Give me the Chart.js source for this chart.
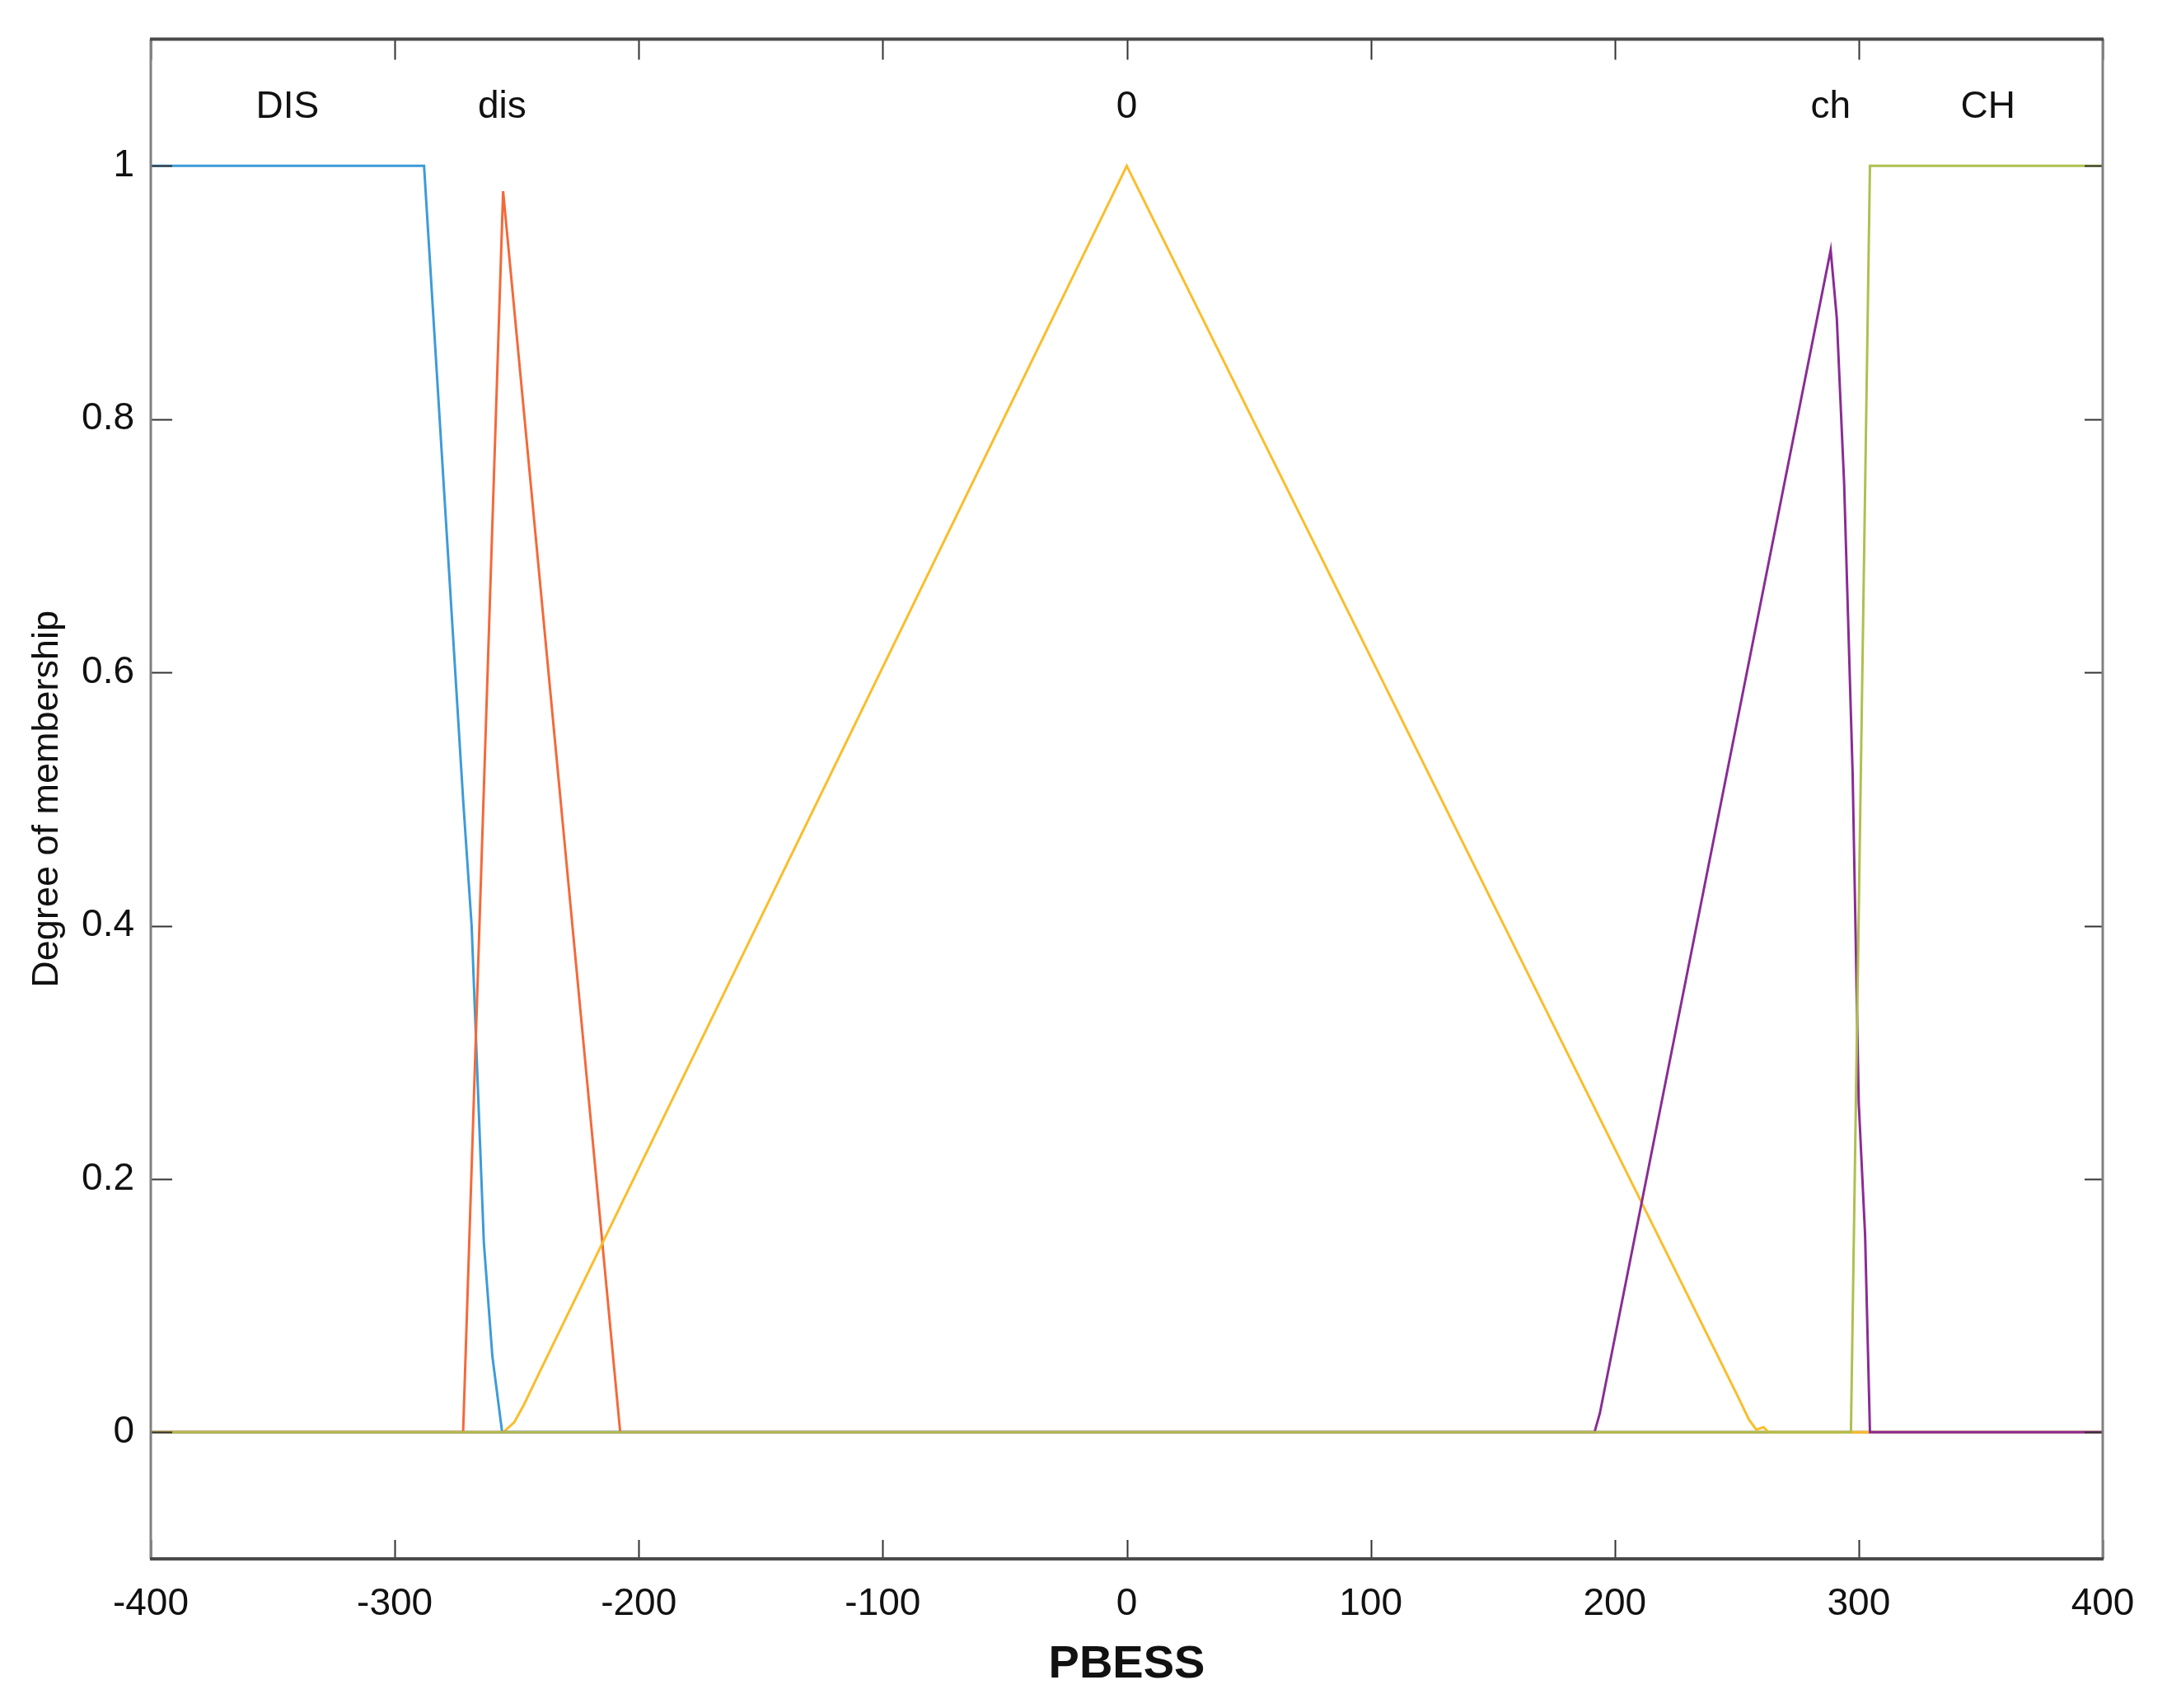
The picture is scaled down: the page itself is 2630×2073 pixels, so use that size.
<!DOCTYPE html>
<html>
<head>
<meta charset="utf-8">
<script src="https://cdn.jsdelivr.net/npm/chart.js@4.4.0/dist/chart.umd.min.js"></script>
<style>
  html, body { margin: 0; padding: 0; background: #fff; }
  #wrap { width: 2630px; height: 2073px; }
</style>
</head>
<body>
<div id="wrap"><canvas id="mf-chart"></canvas></div>
<script>
// membership functions of PBESS
var disBigX = [-400, -288, -280, -272, -268.5, -265.5, -263.5, -260, -256, 400];
var disBigY = [1, 1, 0.75, 0.5, 0.4, 0.25, 0.15, 0.06, 0, 0];

var disX = [-400, -272, -255.6, -207.6, 400];
var disY = [0, 0, 0.98, 0, 0];

var zeroX = [-400, -255.5, -251, -247, -240, 0, 241, 250, 255, 258, 261, 263, 400];
var zeroY = [0, 0, 0.008, 0.022, 0.05, 1, 0.065, 0.03, 0.01, 0.002, 0.004, 0, 0];

var chX = [-400, 191.7, 193.9, 288.5, 291, 294, 297.5, 300, 302.6, 304.6, 400];
var chY = [0, 0, 0.015, 0.9335, 0.88, 0.75, 0.52, 0.26, 0.156, 0, 0];

var chBigX = [-400, 296.8, 304.6, 400];
var chBigY = [0, 0, 1, 1];

var mfNames = ["DIS", "dis", "0", "ch", "CH"];
var mfLabelX = [-344, -256, 0, 288.5, 353];
var mfLabelY = 1.046;

var xTicks = [-400, -300, -200, -100, 0, 100, 200, 300, 400];
var yTicks = [0, 0.2, 0.4, 0.6, 0.8, 1];
var yTickLabels = ["0", "0.2", "0.4", "0.6", "0.8", "1"];

function pts(xs, ys) {
  return xs.map(function (x, i) { return { x: x, y: ys[i] }; });
}

function mf(data, color, order) {
  return {
    data: data,
    borderColor: color,
    borderWidth: 3,
    showLine: true,
    pointRadius: 0,
    tension: 0,
    order: order,
  };
}

var frame = {
  id: "frame",
  afterDraw: function (chart) {
    var c = chart.ctx;
    var a = chart.chartArea;
    var xs = chart.scales.x;
    var ys = chart.scales.y;
    c.save();
    // annotations above the curves
    c.fillStyle = "#111";
    c.font = "46px 'Liberation Sans', Arial, sans-serif";
    c.textAlign = "center";
    c.textBaseline = "middle";
    mfNames.forEach(function (n, i) {
      c.fillText(n, xs.getPixelForValue(mfLabelX[i]), ys.getPixelForValue(mfLabelY));
    });
    // inward ticks
    c.strokeStyle = "#333";
    c.lineWidth = 2;
    c.beginPath();
    xTicks.forEach(function (v) {
      var px = Math.round(xs.getPixelForValue(v)) + 0.5;
      c.moveTo(px, a.bottom); c.lineTo(px, a.bottom - 23);
      c.moveTo(px, a.top); c.lineTo(px, a.top + 25);
    });
    yTicks.forEach(function (v) {
      var py = Math.round(ys.getPixelForValue(v)) + 0.5;
      c.moveTo(a.left, py); c.lineTo(a.left + 26, py);
      c.moveTo(a.right, py); c.lineTo(a.right - 22, py);
    });
    c.stroke();
    // box
    c.strokeStyle = "#808080";
    c.lineWidth = 3;
    c.beginPath();
    c.moveTo(a.left, a.top); c.lineTo(a.left, a.bottom);
    c.moveTo(a.right, a.top); c.lineTo(a.right, a.bottom);
    c.stroke();
    c.strokeStyle = "#4a4a4a";
    c.lineWidth = 4;
    c.beginPath();
    c.moveTo(a.left - 1, a.top); c.lineTo(a.right + 1, a.top);
    c.moveTo(a.left - 1, a.bottom); c.lineTo(a.right + 1, a.bottom);
    c.stroke();
    c.restore();
  },
};

var ctx = document.getElementById("mf-chart").getContext("2d");
new Chart(ctx, {
  type: "scatter",
  data: {
    datasets: [
      mf(pts(disBigX, disBigY), "#3d9bd8", 5),
      mf(pts(disX, disY), "#f4693a", 4),
      mf(pts(zeroX, zeroY), "#fbbd2a", 3),
      mf(pts(chX, chY), "#8a2c95", 2),
      mf(pts(chBigX, chBigY), "#b0bf50", 1),
    ],
  },
  options: {
    responsive: true,
    maintainAspectRatio: false,
    animation: false,
    layout: { padding: { top: 45, right: 78, left: 0, bottom: 0 } },
    plugins: {
      legend: { display: false },
      tooltip: { enabled: false },
    },
    scales: {
      x: {
        type: "linear",
        min: -400,
        max: 400,
        afterBuildTicks: function (s) { s.ticks = xTicks.map(function (v) { return { value: v }; }); },
        afterFit: function (s) { s.height = 181; },
        grid: { display: false, drawTicks: false },
        border: { display: false },
        ticks: {
          padding: 28,
          color: "#111",
          font: { family: "'Liberation Sans', Arial, sans-serif", size: 46 },
          maxRotation: 0,
        },
        title: {
          display: true,
          text: "PBESS",
          color: "#111",
          font: { family: "'Liberation Sans', Arial, sans-serif", size: 56, weight: "bold" },
          padding: { top: 0, bottom: 19 },
        },
      },
      y: {
        type: "linear",
        min: -0.1,
        max: 1.1,
        afterBuildTicks: function (s) { s.ticks = yTicks.map(function (v) { return { value: v }; }); },
        afterFit: function (s) { s.width = 183; },
        grid: { display: false, drawTicks: false },
        border: { display: false },
        ticks: {
          padding: 20,
          color: "#111",
          font: { family: "'Liberation Sans', Arial, sans-serif", size: 46 },
          callback: function (value, index) { return yTickLabels[index]; },
        },
        title: {
          display: true,
          text: "Degree of membership",
          color: "#111",
          font: { family: "'Liberation Sans', Arial, sans-serif", size: 45 },
          padding: { top: 31, bottom: 0 },
        },
      },
    },
  },
  plugins: [frame],
});
</script>
</body>
</html>
